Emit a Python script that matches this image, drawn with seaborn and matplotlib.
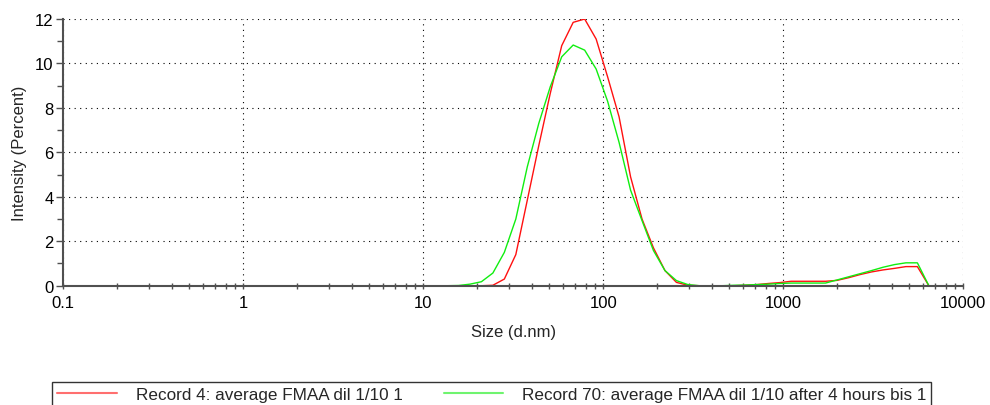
import matplotlib
matplotlib.use("Agg")
import matplotlib.pyplot as plt
from matplotlib.ticker import FixedLocator, LogLocator, NullFormatter, MultipleLocator
import numpy as np
import pandas as pd
import seaborn as sns

# Size classes (d.nm) of the intensity distribution
sizes = [0.4, 0.4632, 0.5365, 0.6213, 0.7195, 0.8332, 0.9649, 1.117, 1.294, 1.499,
         1.736, 2.01, 2.328, 2.696, 3.122, 3.615, 4.187, 4.849, 5.615, 6.503,
         7.531, 8.721, 10.1, 11.7, 13.54, 15.69, 18.17, 21.04, 24.36, 28.21,
         32.67, 37.84, 43.82, 50.75, 58.77, 68.06, 78.82, 91.28, 105.7, 122.4,
         141.8, 164.2, 190.1, 220.2, 255.0, 295.3, 342.0, 396.1, 458.7, 531.2,
         615.1, 712.4, 825.0, 955.4, 1106, 1281, 1484, 1718, 1990, 2305,
         2669, 3091, 3580, 4145, 4801, 5560, 6439, 7456, 8635, 10000]

# Intensity (%) per size class
record_4 = [0, 0, 0, 0, 0, 0, 0, 0, 0, 0,
            0, 0, 0, 0, 0, 0, 0, 0, 0, 0,
            0, 0, 0, 0, 0, 0, 0, 0, 0.02, 0.3,
            1.4, 3.85, 6.3, 8.65, 10.8, 11.85, 12.0, 11.1, 9.4, 7.6,
            4.9, 3.0, 1.7, 0.68, 0.15, 0.02, 0, 0, 0, 0,
            0.02, 0.05, 0.1, 0.14, 0.2, 0.2, 0.2, 0.2, 0.24, 0.36,
            0.5, 0.62, 0.71, 0.78, 0.86, 0.86, 0, 0, 0, 0]

record_70 = [0, 0, 0, 0, 0, 0, 0, 0, 0, 0,
             0, 0, 0, 0, 0, 0, 0, 0, 0, 0,
             0, 0, 0, 0, 0, 0.01, 0.07, 0.18, 0.57, 1.5,
             3.0, 5.35, 7.3, 8.95, 10.3, 10.83, 10.6, 9.75, 8.3, 6.45,
             4.3, 2.93, 1.58, 0.68, 0.23, 0.05, 0, 0, 0, 0.02,
             0.03, 0.05, 0.07, 0.1, 0.12, 0.12, 0.12, 0.12, 0.26, 0.4,
             0.54, 0.68, 0.83, 0.95, 1.03, 1.03, 0, 0, 0, 0]

series_names = ["Record 4: average FMAA dil 1/10 1",
                "Record 70: average FMAA dil 1/10 after 4 hours bis 1"]

x_ticks = [0.1, 1, 10, 100, 1000, 10000]
x_tick_labels = ["0.1", "1", "10", "100", "1000", "10000"]
y_ticks = [0, 2, 4, 6, 8, 10, 12]

df = pd.concat([
    pd.DataFrame({"size": sizes, "intensity": record_4, "record": series_names[0]}),
    pd.DataFrame({"size": sizes, "intensity": record_70, "record": series_names[1]}),
], ignore_index=True)

sns.set_style("white")
plt.rcParams["font.family"] = ["Liberation Sans", "DejaVu Sans"]

fig = plt.figure(figsize=(9.9, 4.06), dpi=100)
ax = fig.add_axes([0.0639, 0.2938, 0.9091, 0.6569])

palette = {series_names[0]: "#ff1010", series_names[1]: "#10ee10"}
sns.lineplot(data=df, x="size", y="intensity", hue="record", palette=palette,
             estimator=None, sort=False, linewidth=1.0, ax=ax, legend=True)

ax.set_xscale("log")
ax.set_xlim(0.1, 10000)
ax.set_ylim(0, 12)

ax.xaxis.set_major_locator(FixedLocator(x_ticks))
ax.set_xticklabels(x_tick_labels)
ax.xaxis.set_minor_locator(LogLocator(base=10, subs=np.arange(2, 10), numticks=20))
ax.xaxis.set_minor_formatter(NullFormatter())
ax.set_yticks(y_ticks)
ax.yaxis.set_minor_locator(MultipleLocator(1))

spine_color = "#505050"
for side in ("top", "right"):
    ax.spines[side].set_visible(False)
for side in ("left", "bottom"):
    ax.spines[side].set_color(spine_color)
    ax.spines[side].set_linewidth(1.5)
    ax.spines[side].set_zorder(5)

ax.tick_params(axis="x", which="both", direction="inout", length=5, width=1,
               color=spine_color, labelsize=12, labelcolor="black", pad=4)
ax.tick_params(axis="y", which="major", direction="out", length=5, width=1,
               color=spine_color, labelsize=12, labelcolor="black", pad=2)
ax.tick_params(axis="y", which="minor", direction="out", length=4, width=1,
               color=spine_color)
ax.tick_params(which="both", bottom=True, left=True)

ax.grid(True, which="major", color="black", linestyle=(0, (1, 4)), linewidth=0.8)
ax.set_axisbelow(True)

ax.set_xlabel("Size (d.nm)", fontsize=12, labelpad=10)
ax.set_ylabel("Intensity (Percent)", fontsize=12, labelpad=6)

handles, labels = ax.get_legend_handles_labels()
ax.get_legend().remove()
leg = fig.legend(handles, labels, loc="upper left",
                 bbox_to_anchor=(52 / 990, 1 - 383 / 406), ncol=2,
                 frameon=True, fancybox=False, edgecolor="black",
                 fontsize=12.35, handlelength=3.45, handletextpad=1.1,
                 columnspacing=2.4, borderpad=0.32, borderaxespad=0)
leg.get_frame().set_linewidth(1.0)
for line in leg.get_lines():
    line.set_linewidth(1.5)
    line.set_alpha(0.6)

fig.savefig("out.png", dpi=100)
